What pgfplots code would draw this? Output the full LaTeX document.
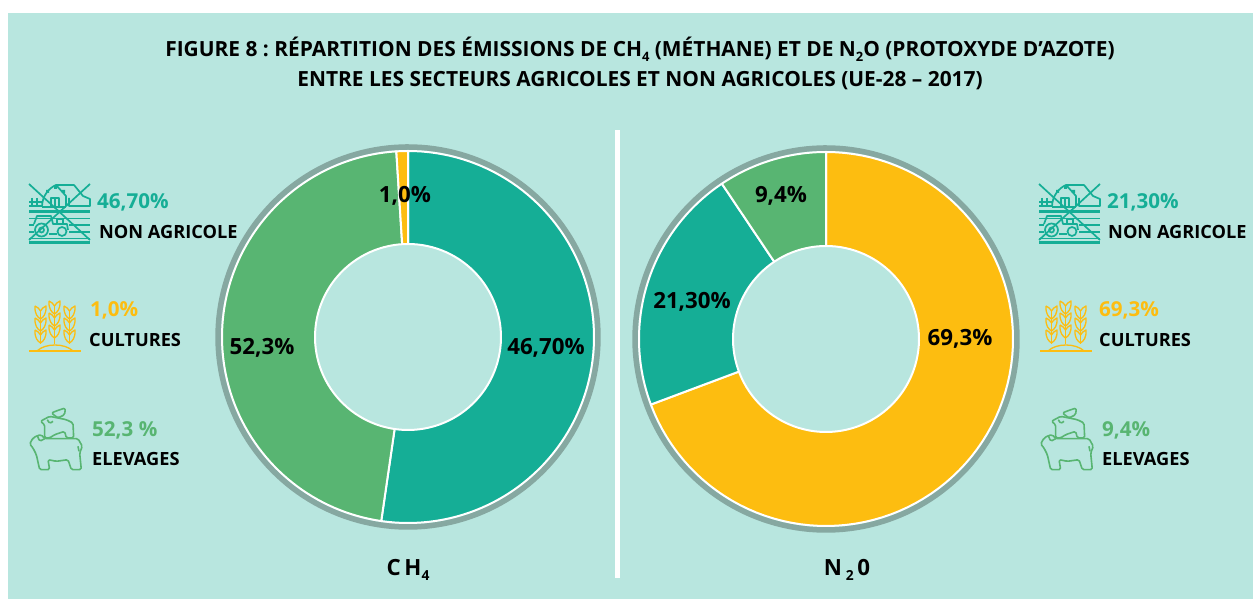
\documentclass[border=0pt]{standalone}
\usepackage{pgfplots}
\pgfplotsset{compat=1.18}
\usepackage{fontspec}
\setmainfont{Open Sans}
\frenchspacing
\definecolor{bgc}{HTML}{B8E6DF}
\definecolor{teal}{HTML}{15AE96}
\definecolor{grn}{HTML}{58B572}
\definecolor{yel}{HTML}{FDBD10}
\definecolor{ring}{HTML}{86A8A1}
\newcommand\sub[1]{\raisebox{-0.25em}{\scalebox{0.62}{#1}}}
% a slice of the donut: centre x, centre y, radius, first share, last share (percent), colour
\newcommand\slice[6]{\addplot[fill=#6,draw=white,line width=2pt,domain={#4*3.6}:{#5*3.6},samples=90]
  ({#1+#3*sin(x)},{#2+#3*cos(x)}) -- (axis cs:#1,#2) -- cycle;}
\newcommand\hole[3]{\addplot[fill=bgc,draw=white,line width=2pt,domain=0:360,samples=120]
  ({#1+93*sin(x)},{#2+93*cos(x)}) -- cycle;
  \addplot[draw=ring,line width=5.5pt,domain=0:360,samples=180]
  ({#1+#3*sin(x)},{#2+#3*cos(x)}) -- cycle;}
\newcommand\iconNA[2]{\begin{scope}[shift={(#1pt,599pt-#2pt)},x=1pt,y=-1pt,draw=teal,line width=1.7pt,line join=round]
 \draw[line width=2.4pt] (0,27.5)--(61,27.5);
 \draw (0,34.5)--(61,34.5);
 \draw (0,41)--(5,41) (40,41)--(61,41);
 \draw (0,48)--(5,48) (40,48)--(61,48);
 \draw (0,54.5)--(61,54.5);
 \draw[line width=2.4pt] (0,58.5)--(61,58.5);
 \draw (13,23) .. controls (13,12) and (20,4) .. (27,1) -- (45,1) -- (54,12) -- (61,15) -- (61,22) -- (40,22) -- (40,14);
 \draw (13,23)--(37,23);
 \draw (37,22)--(37,12)--(27,1);
 \draw (22,24)--(22,14)--(30,14)--(30,24) (26,14)--(26,24);
 \draw (0,18)--(13,18) (3,14)--(3,23) (8,14)--(8,23) (0,22)--(13,22);
 \fill[teal] (17,6) rectangle (20,9) (25,2) rectangle (28,5) (33,6) rectangle (36,9);
 \draw (12.5,46) circle (6.5pt) (12.5,46) circle (2.5pt);
 \draw (33,47.5) circle (4.5pt);
 \draw (5,40)--(8,32)--(22,32)--(24,40)--(38,40)--(39,46);
 \draw (20,50)--(28,50) (28,40)--(28,35)--(34,35)--(34,40);
 \draw (0,0)--(61,56) (61,0)--(0,56);
\end{scope}}
\newcommand\wheat[3]{% centre, top, colour
 \draw[#3] (#1,#2+6)--(#1,44);
 \foreach \t in {0,12,24}{
  \draw[#3] (#1-5.5,#2+\t+1) .. controls (#1-6,#2+\t+9) and (#1-3,#2+\t+12) .. (#1,#2+\t+14)
            .. controls (#1+3,#2+\t+12) and (#1+6,#2+\t+9) .. (#1+5.5,#2+\t+1)
            .. controls (#1+3,#2+\t+2) and (#1+1,#2+\t+4) .. (#1,#2+\t+6)
            .. controls (#1-1,#2+\t+4) and (#1-3,#2+\t+2) .. (#1-5.5,#2+\t+1);}}
\newcommand\iconCU[2]{\begin{scope}[shift={(#1pt,599pt-#2pt)},x=1pt,y=-1pt,line width=1.3pt,line join=round]
 \wheat{11.5}{5}{yel}\wheat{25.5}{0}{yel}\wheat{40.5}{5}{yel}
 \draw[yel,line width=1.5pt] (0,51)--(52,51);
 \draw[yel] (8,51) .. controls (16,43) and (36,43) .. (44,51);
\end{scope}}
\newcommand\iconEL[2]{\begin{scope}[shift={(#1pt,599pt-#2pt)},x=0.3333pt,y=-0.3333pt,draw=grn,line width=1.6pt,line join=round,rounded corners=1.6pt]
 \draw (2,108)--(12,90)--(25,83)--(37,80)--(47,92)--(147,92)--(160,115)--(152,135)--(157,185)--(127,185)--(117,155)--(82,160)--(57,155)--(62,185)--(32,185)--(22,140)--(12,120)--cycle;
 \draw (25,83)--(32,100)--(47,92);
 \draw (147,115)--(150,130);
 \draw (34,40)--(62,25)--(112,35)--(132,45)--(134,90)--(112,90)--(107,70)--(77,80)--(62,90)--(47,90)--(47,50)--cycle;
 \draw (55,35)--(62,47)--(72,40);
 \draw (67,15)--(87,7)--(109,0)--(107,20)--(87,30)--cycle;
\end{scope}}
\begin{document}
\begin{tikzpicture}[x=1pt,y=1pt]
\fill[white] (0,0) rectangle (1253,599);
\fill[bgc] (8,0) rectangle (1253,586);
\begin{axis}[at={(0pt,0pt)},anchor=south west,scale only axis,width=1253pt,height=599pt,
  xmin=0,xmax=1253,ymin=0,ymax=599,hide axis,clip=false,trig format plots=deg]
% CH4
\slice{408}{262}{186}{0}{52.3}{teal}
\slice{408}{262}{186}{52.3}{99}{grn}
\slice{408}{262}{186}{99}{100}{yel}
\hole{408}{262}{190}
% N2O
\slice{826}{260}{187}{0}{69.3}{yel}
\slice{826}{260}{187}{69.3}{90.6}{teal}
\slice{826}{260}{187}{90.6}{100}{grn}
\hole{826}{260}{191}
\end{axis}
\fill[white] (615,21) rectangle (620,469);
\node[align=center,font=\bfseries\fontsize{20.9}{30}\selectfont,inner sep=0pt] at (640,536)
 {FIGURE 8 : RÉPARTITION DES ÉMISSIONS DE CH\sub{4} (MÉTHANE) ET DE N\sub{2}O (PROTOXYDE D’AZOTE)\\
  ENTRE LES SECTEURS AGRICOLES ET NON AGRICOLES (UE-28 – 2017)};
\begin{scope}[every node/.style={inner sep=0pt,font=\bfseries\fontsize{22.3}{25}\selectfont}]
\node at (546,251) {46,70\%};
\node at (262,251) {52,3\%};
\node at (405,403) {1,0\%};
\node at (960,260) {69,3\%};
\node at (692,297) {21,30\%};
\node at (781,403) {9,4\%};
\node at (408,29) {C\,H\sub{4}};
\node at (847,29) {N\,\sub{2}\,0};
\end{scope}
\begin{scope}[every node/.style={inner sep=0pt,anchor=base west,font=\bfseries\fontsize{18.2}{22}\selectfont}]
\node[text=teal,font=\bfseries\fontsize{20.6}{22}\selectfont] at (97,390.5) {46,70\%};
\node at (99,360) {NON AGRICOLE};
\node[text=yel,font=\bfseries\fontsize{20.6}{22}\selectfont] at (90,282.5) {1,0\%};
\node at (89,252) {CULTURES};
\node[text=grn,font=\bfseries\fontsize{20.6}{22}\selectfont] at (92,162.5) {52,3 \%};
\node at (92,133) {ELEVAGES};
\node[text=teal,font=\bfseries\fontsize{20.6}{22}\selectfont] at (1107,390.5) {21,30\%};
\node at (1108,360) {NON AGRICOLE};
\node[text=yel,font=\bfseries\fontsize{20.6}{22}\selectfont] at (1099,282.5) {69,3\%};
\node at (1099,252) {CULTURES};
\node[text=grn,font=\bfseries\fontsize{20.6}{22}\selectfont] at (1102,162.5) {9,4\%};
\node at (1102,133) {ELEVAGES};
\end{scope}
\iconNA{29}{184}\iconNA{1039}{184}
\iconCU{29}{300}\iconCU{1040}{300}
\iconEL{29}{408}\iconEL{1040}{408}
\end{tikzpicture}
\end{document}
